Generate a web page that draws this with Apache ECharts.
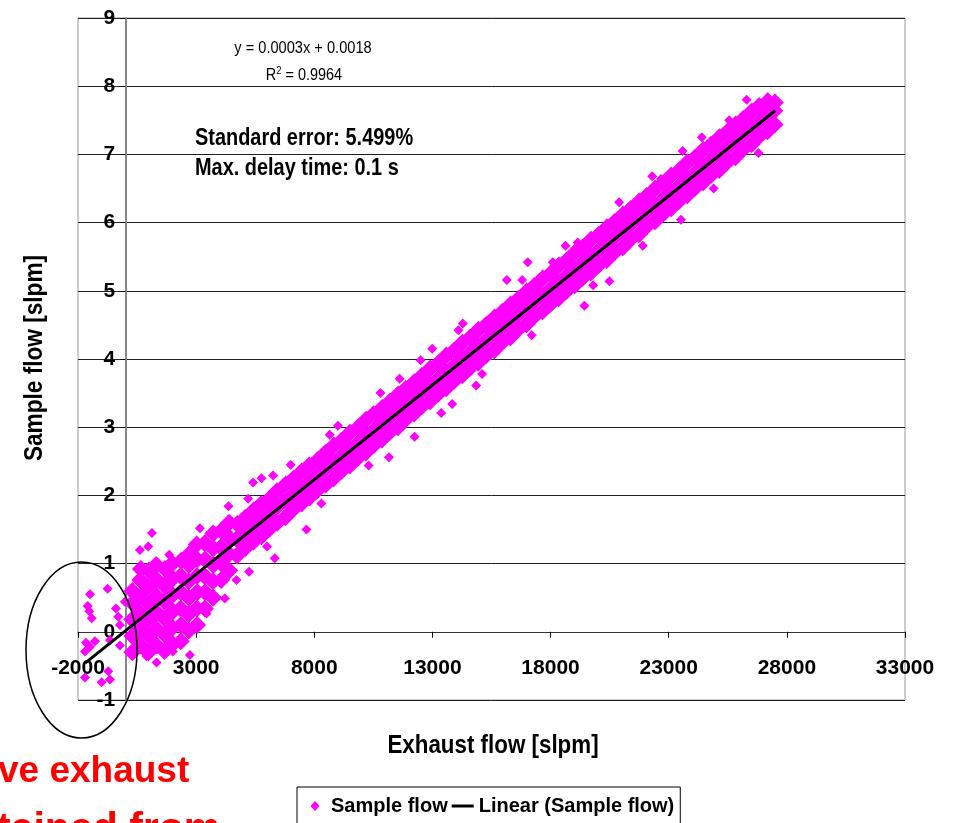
<!DOCTYPE html>
<html>
<head>
<meta charset="utf-8">
<script src="https://cdn.jsdelivr.net/npm/echarts@6/dist/echarts.min.js"></script>
<style>
  html, body { margin: 0; padding: 0; background: #ffffff; }
  #chart { width: 953px; height: 823px; }
</style>
</head>
<body>
<div id="chart"></div>
<script>
// ---- data -------------------------------------------------------------
// Axis ranges and ticks
const xTicks = { min: -2000, max: 33000, step: 5000 };
const yTicks = { min: -1, max: 9, step: 1 };

// Dense body of the measurement cloud: [exhaust flow, sample flow]
const bandPoints = [
  [300,-0.30],[305,-0.06],[295,0.18],[310,0.42],[300,0.60],
  [640,-0.20],[650,0.04],[630,0.28],[645,0.52],[635,0.76],[660,0.92],
  [980,-0.30],[990,-0.06],[970,0.18],[985,0.42],[975,0.66],[1000,0.90],
  [1330,-0.20],[1320,0.04],[1340,0.28],[1325,0.52],[1335,0.76],[1310,0.98],
  [1660,-0.28],[1670,-0.04],[1650,0.20],[1665,0.44],[1655,0.68],[1680,0.92],
  [2010,-0.18],[2000,0.06],[2020,0.30],[2005,0.54],[2015,0.78],[1990,1.00],
  [2350,-0.14],[2360,0.10],[2340,0.34],[2355,0.58],[2345,0.82],[2370,1.04],
  [2690,0.02],[2680,0.26],[2700,0.50],[2685,0.74],[2695,0.98],[2710,1.14],
  [3040,0.10],[3030,0.34],[3050,0.58],[3035,0.82],[3045,1.06],[3020,1.28],
  [3370,0.34],[3380,0.58],[3360,0.82],[3375,1.06],[3365,1.30],
  [3720,0.50],[3710,0.74],[3730,0.98],[3715,1.22],[3725,1.44],
  [4060,0.76],[4070,1.00],[4050,1.24],[4065,1.48],
  [4400,0.90],[4390,1.14],[4410,1.38],[4395,1.60],
  [4730,1.12],[4720,1.36],[4740,1.58],
  [5080,1.23],[5090,1.45],[5070,1.67],
  [5420,1.32],[5410,1.54],[5430,1.78],
  [5760,1.40],[5770,1.65],[5750,1.87],
  [6100,1.51],[6090,1.73],[6110,1.95],
  [6430,1.60],[6440,1.84],[6420,2.06],
  [6780,1.68],[6770,1.92],[6790,2.16],
  [7120,1.80],[7130,2.02],[7110,2.24],
  [7460,1.88],[7450,2.10],[7470,2.35],
  [7800,1.97],[7810,2.21],[7790,2.44],
  [8140,2.08],[8130,2.30],[8150,2.52],
  [8480,2.16],[8490,2.40],[8470,2.62],
  [8820,2.25],[8810,2.49],[8830,2.73],
  [9160,2.36],[9170,2.58],[9150,2.80],
  [9500,2.44],[9490,2.68],[9510,2.92],
  [9840,2.55],[9850,2.77],[9830,2.99],
  [10180,2.63],[10170,2.87],[10190,3.11],
  [10520,2.74],[10530,2.96],[10510,3.19],
  [10860,2.82],[10850,3.06],[10870,3.28],
  [11200,2.93],[11210,3.15],[11190,3.37],
  [11540,3.00],[11530,3.24],[11550,3.48],
  [11880,3.12],[11890,3.34],[11870,3.56],
  [12220,3.20],[12210,3.44],[12230,3.66],
  [12560,3.31],[12570,3.53],[12550,3.75],
  [12900,3.38],[12890,3.62],[12910,3.86],
  [13240,3.49],[13250,3.71],[13230,3.93],
  [13580,3.57],[13570,3.81],[13590,4.05],
  [13920,3.68],[13930,3.90],[13910,4.12],
  [14260,3.76],[14250,4.00],[14270,4.24],
  [14600,3.87],[14610,4.09],[14590,4.31],
  [14940,3.95],[14930,4.19],[14950,4.43],
  [15280,4.06],[15290,4.28],[15270,4.50],
  [15620,4.13],[15610,4.37],[15630,4.61],
  [15960,4.25],[15970,4.47],[15950,4.69],
  [16300,4.32],[16290,4.56],[16310,4.80],
  [16640,4.44],[16650,4.66],[16630,4.88],
  [16980,4.51],[16970,4.75],[16990,4.99],
  [17320,4.63],[17330,4.85],[17310,5.07],
  [17660,4.70],[17650,4.94],[17670,5.18],
  [18000,4.81],[18010,5.03],[17990,5.25],
  [18340,4.89],[18330,5.13],[18350,5.37],
  [18680,5.00],[18690,5.22],[18670,5.44],
  [19020,5.08],[19010,5.32],[19030,5.56],
  [19360,5.19],[19370,5.41],[19350,5.63],
  [19700,5.27],[19690,5.51],[19710,5.75],
  [20040,5.38],[20050,5.60],[20030,5.82],
  [20380,5.45],[20370,5.69],[20390,5.93],
  [20720,5.57],[20730,5.79],[20710,6.01],
  [21060,5.64],[21050,5.88],[21070,6.12],
  [21400,5.76],[21410,5.98],[21390,6.20],
  [21740,5.83],[21730,6.07],[21750,6.31],
  [22080,5.95],[22090,6.17],[22070,6.39],
  [22420,6.02],[22410,6.26],[22430,6.50],
  [22760,6.13],[22770,6.35],[22750,6.57],
  [23100,6.21],[23090,6.45],[23110,6.69],
  [23440,6.32],[23450,6.54],[23430,6.76],
  [23780,6.40],[23770,6.64],[23790,6.88],
  [24120,6.51],[24130,6.73],[24110,6.95],
  [24460,6.59],[24450,6.83],[24470,7.07],
  [24800,6.70],[24810,6.92],[24790,7.14],
  [25140,6.77],[25130,7.01],[25150,7.25],
  [25480,6.89],[25490,7.11],[25470,7.33],
  [25820,6.96],[25810,7.20],[25830,7.44],
  [26160,7.08],[26170,7.30],[26150,7.52],
  [26500,7.15],[26490,7.39],[26510,7.63],
  [26840,7.27],[26850,7.49],[26830,7.71],
  [27180,7.34],[27170,7.58],[27190,7.78],
  [27480,7.44],[27470,7.64],[27490,7.76]
];

// Scattered readings around the cloud, including negative exhaust flows
const strayPoints = [
  [-1493,0.55],[-745,0.63],[-1590,0.38],[-1522,0.30],[-1421,0.20],[-394,0.34],
  [-296,0.22],[-225,0.10],[-13,0.44],[-1662,-0.16],[-1493,-0.22],[-1281,-0.14],
  [-1704,-0.29],[-647,-0.12],[-225,-0.20],[-1704,-0.67],[-1000,-0.74],[-647,-0.70],
  [-719,-0.58],
  [1128,1.45],[972,1.25],[621,1.20],[1859,1.13],[3157,1.52],[4370,1.84],
  [5410,2.19],[5765,2.25],[6255,2.29],[8652,2.89],[3440,0.27],[4214,0.49],
  [4708,0.76],[5241,0.88],[6327,1.08],[7667,1.50],[2734,-0.34],[1325,-0.45],
  [2015,-0.29],[903,-0.36],
  [16147,5.16],[13837,3.34],[13372,3.21],[14852,3.61],[12245,2.86],[11159,2.56],
  [11611,3.71],[12993,4.15],[14287,4.52],[23586,7.05],[23517,6.04],[20488,5.14],
  [19431,4.78],[17035,5.42],[18091,5.42],[18628,5.66],[19149,5.71],[22671,6.64],
  [25560,7.50],[27322,7.39],
  [9000,3.02],[10800,3.50],[12500,3.98],[14100,4.42],[16800,5.16],[20900,6.30],
  [22300,6.68],[24400,7.25],[26300,7.80],[6000,1.25],[8300,1.88],[10300,2.44],
  [15100,3.78],[17200,4.35],[19800,5.08],[21900,5.66],[24900,6.50],[26800,7.02],
  [5200,1.95],[7000,2.45]
];

// Linear trend of the sample flow
const trendX = [-1700, 27500];
const trendY = [-0.46, 7.64];

// Texts
const seriesNames = ['Sample flow', 'Linear (Sample flow)'];
const xTitle = 'Exhaust flow [slpm]';
const yTitle = 'Sample flow [slpm]';
const fitEquation = 'y = 0.0003x + 0.0018';
const fitR2 = '0.9964';
const statLines = ['Standard error: 5.499%', 'Max. delay time: 0.1 s'];
const noteLines = ['ve exhaust', 'tained from'];

// ---- chart ------------------------------------------------------------
const ARIAL = "'Liberation Sans', Arial, sans-serif";
const MAGENTA = '#FF00FF';
const W = 953, H = 823;
const GRID = { left: 78, top: 18, right: 48, bottom: 123 };
const gridW = W - GRID.left - GRID.right;
const gridH = H - GRID.top - GRID.bottom;

// The axes cross at zero: shift each axis from the grid edge to the
// zero position of the other axis.
const xAxisOffset = -gridH * (0 - yTicks.min) / (yTicks.max - yTicks.min);
const yAxisOffset = -gridW * (0 - xTicks.min) / (xTicks.max - xTicks.min);

const scatterData = bandPoints.concat(strayPoints);
const trendData = trendX.map((x, i) => [x, trendY[i]]);

const chart = echarts.init(document.getElementById('chart'), null, { renderer: 'canvas' });

// narrow bold text (the chart lettering is condensed)
function narrowText(text, x, y, size, opts) {
  opts = opts || {};
  return {
    type: 'text', x: x, y: y, z: 10,
    scaleX: opts.scaleX || 0.84,
    rotation: opts.rotation || 0,
    style: Object.assign({
      text: text,
      font: (opts.weight || 'bold') + ' ' + size + 'px ' + ARIAL,
      fill: '#000',
      align: opts.align || 'left',
      verticalAlign: 'middle'
    }, opts.style || {})
  };
}

const option = {
  backgroundColor: '#ffffff',
  animation: false,
  grid: {
    left: GRID.left, top: GRID.top, right: GRID.right, bottom: GRID.bottom,
    show: true, borderColor: '#999999', borderWidth: 1,
    backgroundColor: 'transparent',
    outerBoundsMode: 'none'
  },
  xAxis: {
    type: 'value',
    min: xTicks.min, max: xTicks.max, interval: xTicks.step,
    offset: xAxisOffset,
    axisLine: { onZero: false, lineStyle: { color: '#333333', width: 1 } },
    axisTick: { show: true, length: 6, lineStyle: { color: '#000', width: 1 } },
    axisLabel: {
      margin: 26, fontFamily: ARIAL, fontWeight: 'bold', fontSize: 21, color: '#000',
      formatter: v => String(v)
    },
    splitLine: { show: false }
  },
  yAxis: {
    type: 'value',
    min: yTicks.min, max: yTicks.max, interval: yTicks.step,
    offset: yAxisOffset,
    axisLine: { show: true, onZero: false, lineStyle: { color: '#888888', width: 2 } },
    axisTick: { show: true, length: 5, lineStyle: { color: '#000', width: 1 } },
    axisLabel: {
      margin: 10, fontFamily: ARIAL, fontWeight: 'bold', fontSize: 21, color: '#000',
      formatter: v => String(v)
    },
    splitLine: { show: true, lineStyle: { color: '#222222', width: 1 } }
  },
  legend: {
    left: 297, top: 787,
    orient: 'horizontal',
    padding: [9, 6, 20, 7],
    itemGap: 4,
    itemWidth: 22, itemHeight: 10,
    borderColor: '#000', borderWidth: 1,
    textStyle: { fontFamily: ARIAL, fontWeight: 'bold', fontSize: 20, color: '#000' },
    data: [
      { name: seriesNames[0], icon: 'path://M0,5 M6.5,5 L11,0 L15.5,5 L11,10 Z M22,5' },
      { name: seriesNames[1], icon: 'path://M0,0 M0,3.5 L22,3.5 L22,6.5 L0,6.5 Z M22,10' }
    ]
  },
  series: [
    {
      name: seriesNames[0],
      type: 'scatter',
      symbol: 'diamond',
      symbolSize: (val, params) => params.dataIndex < bandPoints.length ? 18 : 10,
      itemStyle: { color: MAGENTA, opacity: 1 },
      data: scatterData,
      z: 2
    },
    {
      name: seriesNames[1],
      type: 'line',
      symbol: 'none',
      lineStyle: { color: '#000', width: 3 },
      itemStyle: { color: '#000' },
      data: trendData,
      z: 3
    }
  ],
  graphic: [
    narrowText(fitEquation, 303, 48, 17, { weight: 'normal', align: 'center', scaleX: 0.86 }),
    narrowText('R{sup|2} = ' + fitR2, 304, 75, 17, {
      weight: 'normal', align: 'center', scaleX: 0.85,
      style: { rich: { sup: { font: '11px ' + ARIAL, fill: '#000', verticalAlign: 'top', padding: [0, 0, 8, 0] } } }
    }),
    narrowText(statLines[0], 195, 138, 24, { scaleX: 0.83 }),
    narrowText(statLines[1], 195, 168, 24, { scaleX: 0.83 }),
    narrowText(xTitle, 493, 746, 26, { align: 'center', scaleX: 0.86 }),
    narrowText(yTitle, 35, 358, 26, { align: 'center', scaleX: 0.87, rotation: Math.PI / 2 }),
    {
      type: 'ellipse', z: 10,
      shape: { cx: 81.5, cy: 650, rx: 55.5, ry: 88 },
      style: { fill: 'none', stroke: '#000', lineWidth: 1.5 }
    },
    {
      type: 'text', x: -2, y: 772, z: 10,
      style: { text: noteLines[0], font: 'bold 37px ' + ARIAL, fill: '#FF0000', align: 'left', verticalAlign: 'middle' }
    },
    {
      type: 'text', x: -3, y: 830, z: 10,
      style: { text: noteLines[1], font: 'bold 41px ' + ARIAL, fill: '#FF0000', align: 'left', verticalAlign: 'middle' }
    }
  ]
};

chart.setOption(option);
</script>
</body>
</html>
